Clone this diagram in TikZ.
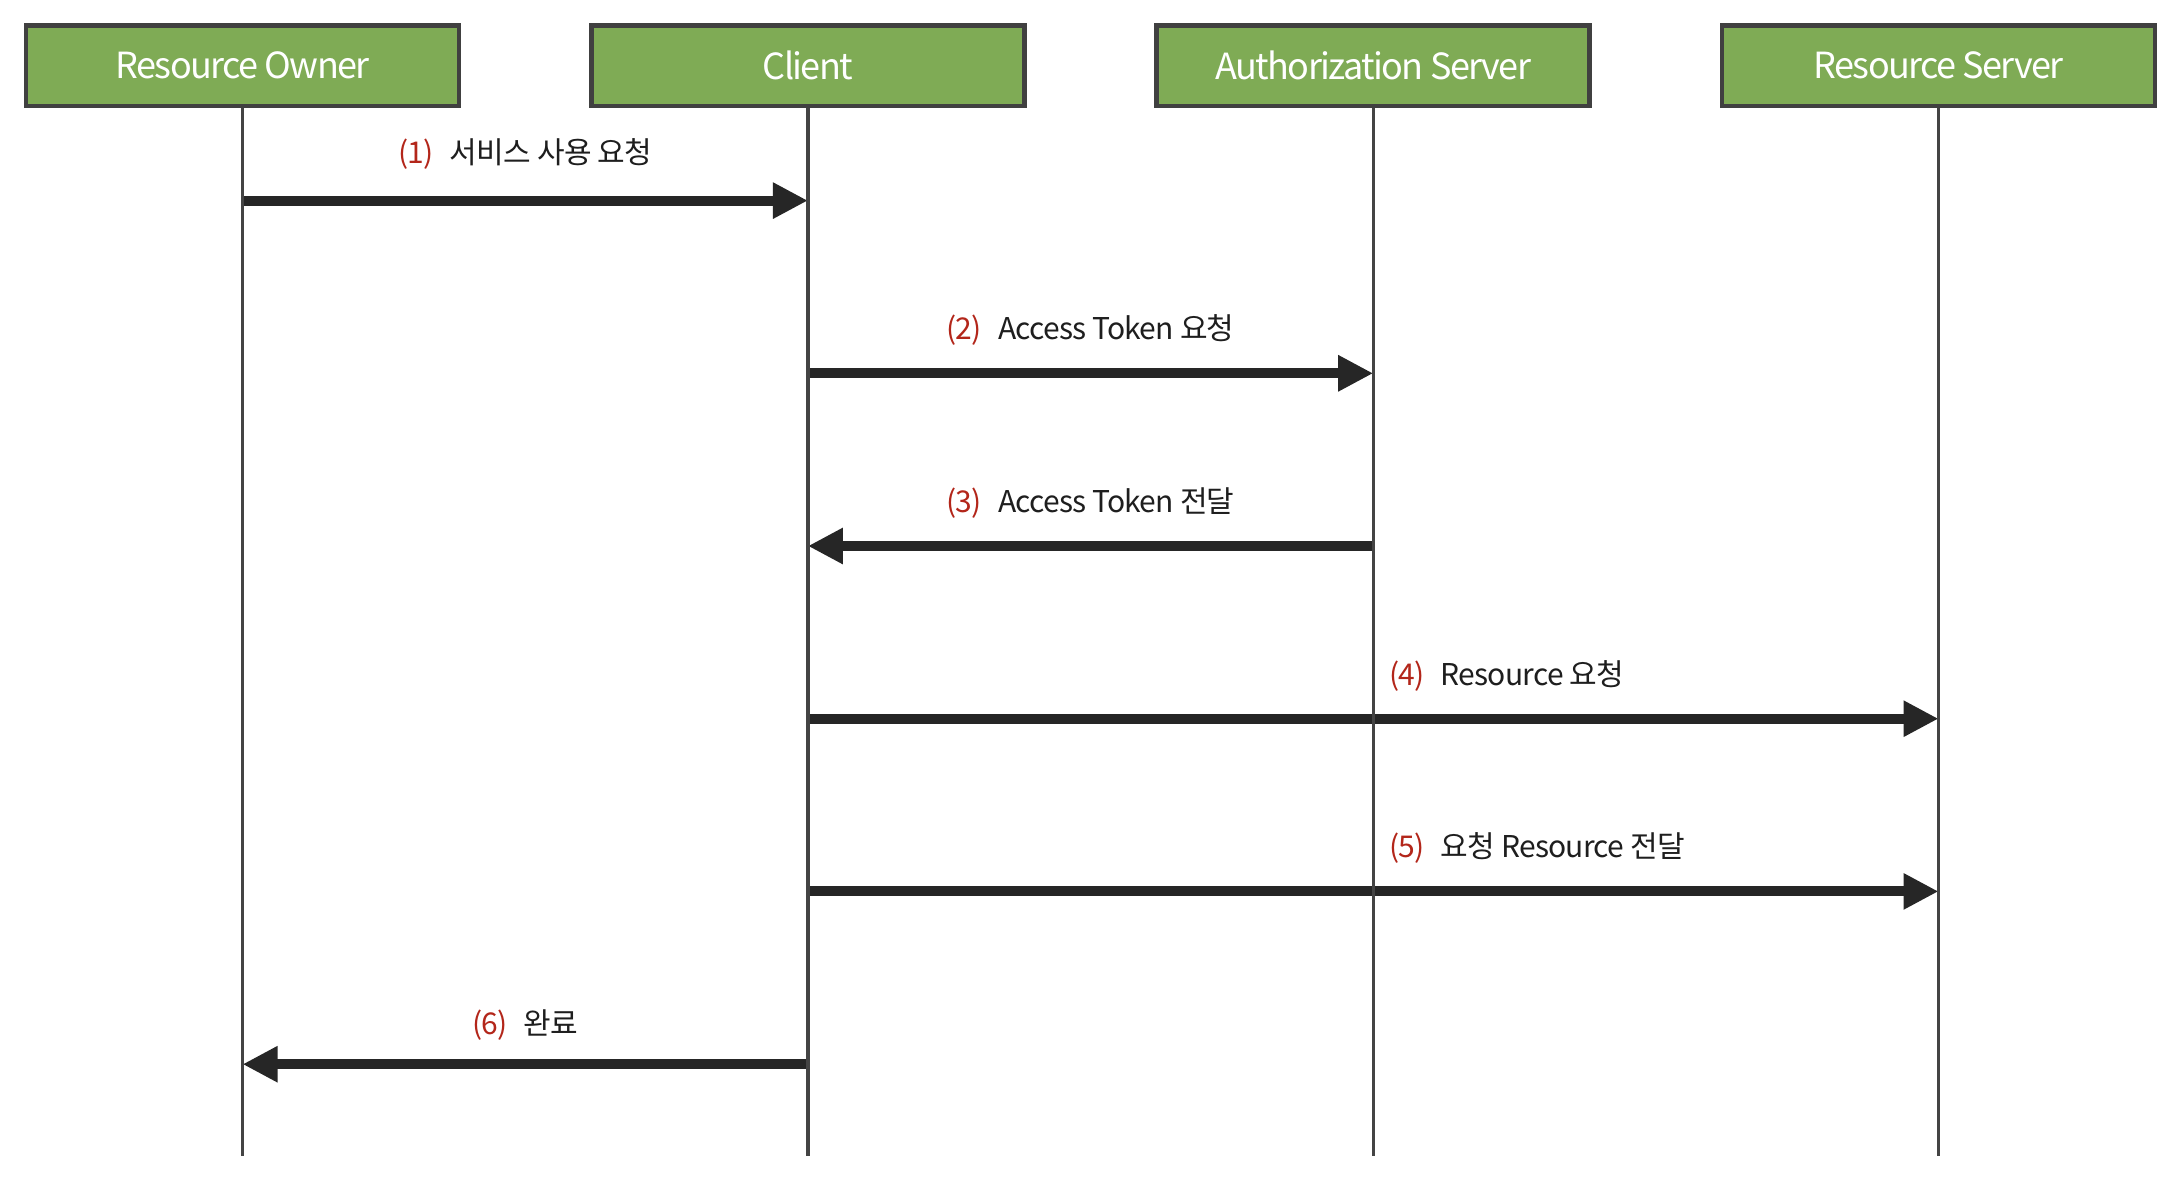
\documentclass[tikz,border=0pt]{standalone}
\usepackage{fontspec}
\setmainfont{Noto Sans CJK KR}
\newfontfamily\hdrfont{Noto Sans CJK KR}[LetterSpace=-4.5]
\newfontfamily\lblfont{Noto Sans CJK KR}[LetterSpace=-2.5]
\usetikzlibrary{arrows.meta,calc}
\definecolor{hdrfill}{HTML}{7FAB55}
\definecolor{hdrline}{HTML}{404040}
\definecolor{lifeline}{HTML}{444444}
\definecolor{msgline}{HTML}{262626}
\definecolor{numred}{HTML}{B3261A}
\definecolor{txt}{HTML}{1E1E1E}
\begin{document}
\begin{tikzpicture}[x=1pt,y=-1pt,
  header/.style={draw=hdrline, line width=4.5pt, fill=hdrfill, minimum width=433pt, minimum height=80.5pt,
    inner sep=0pt, text=white, font=\hdrfont\fontsize{36}{40}\selectfont},
  life/.style={draw=lifeline, line width=3.2pt},
  msg/.style={draw=msgline, line width=10pt, -{Triangle[length=35pt,width=34pt]}, shorten >=0pt},
  lbl/.style={inner sep=0pt, text=txt, font=\lblfont\fontsize{30}{33}\selectfont},
]
\useasboundingbox (0,0) rectangle (2184,1186);
\fill[white] (0,0) rectangle (2184,1186);

\node[header] (ro) at (242.6,65.5) {Resource Owner};
\node[header] (cl) at (807.9,65.5) {Client};
\node[header] (as) at (1373.2,65.5) {Authorization Server};
\node[header] (rs) at (1938.5,65.5) {Resource Server};

\foreach \n in {ro,cl,as,rs}{
  \coordinate (\n-end) at ($(\n.south)+(0,1156-107.75)$);
}

% message anchor points
\coordinate (m1a) at (ro.south |- 0,200.6);  \coordinate (m1b) at (cl.south |- 0,200.6);
\coordinate (m2a) at (cl.south |- 0,373.3);  \coordinate (m2b) at (as.south |- 0,373.3);
\coordinate (m3a) at (as.south |- 0,546);    \coordinate (m3b) at (cl.south |- 0,546);
\coordinate (m4a) at (cl.south |- 0,718.7);  \coordinate (m4b) at (rs.south |- 0,718.7);
\coordinate (m5a) at (cl.south |- 0,891.4);  \coordinate (m5b) at (rs.south |- 0,891.4);
\coordinate (m6a) at (cl.south |- 0,1064.2); \coordinate (m6b) at (ro.south |- 0,1064.2);

\draw[msg] (m1a) -- (m1b);
\draw[msg] (m2a) -- (m2b);
\draw[msg] (m3a) -- (m3b);
\draw[msg] (m4a) -- (m4b);
\draw[msg] (m5a) -- (m5b);
\draw[msg] (m6a) -- (m6b);

\foreach \n in {ro,cl,as,rs}{
  \draw[life] (\n.south) -- (\n-end);
}

\node[lbl] (l1) at ($(m1a)!0.5!(m1b)+(0,-47)$) {\textcolor{numred}{(1)}\hspace{16pt}서비스 사용 요청};
\node[lbl] (l2) at ($(m2a)!0.5!(m2b)+(0,-43)$) {\textcolor{numred}{(2)}\hspace{16pt}Access Token 요청};
\node[lbl] (l3) at ($(m3a)!0.5!(m3b)+(0,-43)$) {\textcolor{numred}{(3)}\hspace{16pt}Access Token 전달};
\node[lbl, anchor=west] (l4) at ($(as.south |- m4a)+(16,-43)$) {\textcolor{numred}{(4)}\hspace{16pt}Resource 요청};
\node[lbl, anchor=west] (l5) at ($(as.south |- m5a)+(16,-43)$) {\textcolor{numred}{(5)}\hspace{16pt}요청 Resource 전달};
\node[lbl] (l6) at ($(m6a)!0.5!(m6b)+(0,-39)$) {\textcolor{numred}{(6)}\hspace{16pt}완료};
\end{tikzpicture}
\end{document}
